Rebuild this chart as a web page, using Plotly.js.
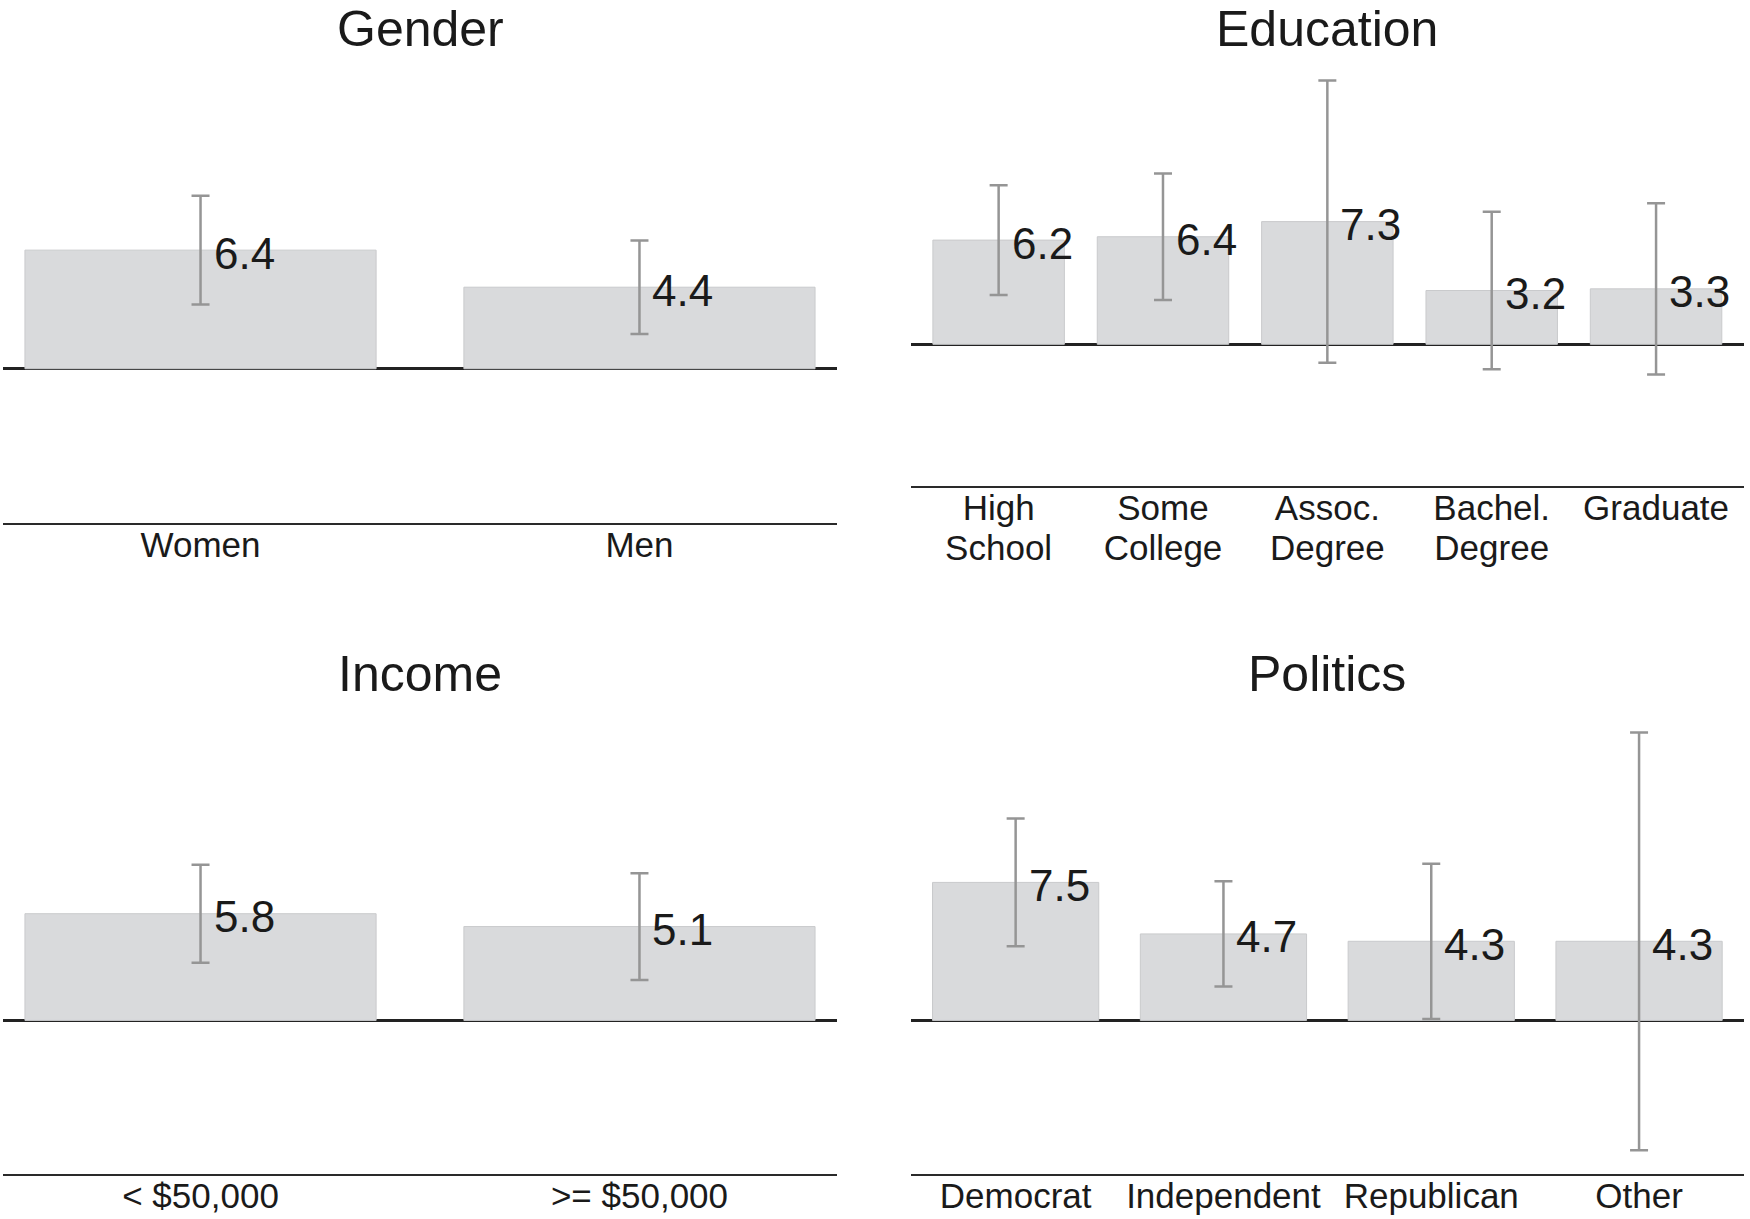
<!DOCTYPE html>
<html>
<head>
<meta charset="utf-8">
<script src="https://cdn.plot.ly/plotly-3.0.1.min.js"></script>
<style>
  html, body { margin: 0; padding: 0; background: #ffffff; }
  #chart { width: 1750px; height: 1219px; }
</style>
</head>
<body>
<div id="chart"></div>
<script>
// ---- Data ----
const panelTitles = ['Gender', 'Education', 'Income', 'Politics'];

const genderCats = ['Women', 'Men'];
const genderVals = [6.4, 4.4];
const genderErr  = [2.94, 2.52];

const eduCats = ['High<br>School', 'Some<br>College', 'Assoc.<br>Degree', 'Bachel.<br>Degree', 'Graduate'];
const eduVals = [6.2, 6.4, 7.3, 3.2, 3.3];
const eduErr  = [3.26, 3.77, 8.4, 4.68, 5.1];

const incomeCats = ['< $50,000', '>= $50,000'];
const incomeVals = [5.8, 5.1];
const incomeErr  = [2.66, 2.9];

const polCats = ['Democrat', 'Independent', 'Republican', 'Other'];
const polVals = [7.5, 4.7, 4.3, 4.3];
const polErr  = [3.47, 2.86, 4.22, 11.35];

// ---- Styling ----
const FONT = 'Liberation Sans, Arial, Helvetica, sans-serif';
const TEXT_COLOR = '#1a1a1a';
const BAR_FILL = '#d9dadc';
const BAR_EDGE = '#c9cacc';
const ERR_COLOR = '#959595';

const panels = [
  { cats: genderCats, vals: genderVals, err: genderErr, xa: 'x',  ya: 'y'  },
  { cats: eduCats,    vals: eduVals,    err: eduErr,    xa: 'x2', ya: 'y2' },
  { cats: incomeCats, vals: incomeVals, err: incomeErr, xa: 'x3', ya: 'y3' },
  { cats: polCats,    vals: polVals,    err: polErr,    xa: 'x4', ya: 'y4' }
];

const traces = panels.map(p => ({
  type: 'bar',
  x: p.cats.map((c, i) => i),
  y: p.vals,
  xaxis: p.xa,
  yaxis: p.ya,
  width: 0.8,
  marker: { color: BAR_FILL, line: { color: BAR_EDGE, width: 1 } },
  error_y: { type: 'data', array: p.err, visible: true, color: ERR_COLOR, thickness: 2.5, width: 9 },
  showlegend: false,
  hoverinfo: 'skip'
}));

// value labels
const annotations = [];
panels.forEach(p => {
  p.vals.forEach((v, i) => {
    annotations.push({
      xref: p.xa, yref: p.ya,
      x: i, y: v,
      text: v.toFixed(1),
      showarrow: false,
      xanchor: 'left', yanchor: 'middle',
      xshift: 11, yshift: -3,
      font: { family: FONT, size: 44, color: TEXT_COLOR }
    });
  });
});

// panel titles (centred over each panel's domain)
const W = 1750, H = 1219;
const colX = [[3 / W, 837 / W], [910.7 / W, 1744 / W]];
const titlePos = [
  { x: (colX[0][0] + colX[0][1]) / 2, y: 1,            anchor: 'top' },
  { x: (colX[1][0] + colX[1][1]) / 2, y: 1,            anchor: 'top' },
  { x: (colX[0][0] + colX[0][1]) / 2, y: 1 - 674 / H,  anchor: 'middle' },
  { x: (colX[1][0] + colX[1][1]) / 2, y: 1 - 674 / H,  anchor: 'middle' }
];
panelTitles.forEach((t, i) => {
  annotations.push({
    xref: 'paper', yref: 'paper',
    x: titlePos[i].x, y: titlePos[i].y,
    text: t, showarrow: false,
    xanchor: 'center', yanchor: titlePos[i].anchor,
    borderpad: 0,
    font: { family: FONT, size: 50, color: TEXT_COLOR }
  });
});

function xAxis(domain, cats, range, anchor) {
  return {
    domain: domain,
    anchor: anchor,
    type: 'linear',
    range: range,
    tickmode: 'array',
    tickvals: cats.map((c, i) => i),
    ticktext: cats,
    ticks: '',
    ticklabelstandoff: -10,
    showgrid: false,
    zeroline: false,
    showline: true,
    linecolor: '#2a2a2a',
    linewidth: 2,
    tickfont: { family: FONT, size: 35, color: TEXT_COLOR },
    fixedrange: true
  };
}
function yAxis(domain, range, anchor) {
  return {
    domain: domain,
    anchor: anchor,
    range: range,
    showticklabels: false,
    ticks: '',
    showgrid: false,
    showline: false,
    zeroline: true,
    zerolinecolor: '#222222',
    zerolinewidth: 2.5,
    fixedrange: true
  };
}

const layout = {
  width: W, height: H,
  margin: { l: 0, r: 0, t: 0, b: 0, pad: 0 },
  paper_bgcolor: '#ffffff',
  plot_bgcolor: '#ffffff',
  font: { family: FONT, color: TEXT_COLOR },
  showlegend: false,
  bargap: 0.2,
  xaxis:  xAxis(colX[0], genderCats, [-0.45, 1.45], 'y'),
  xaxis2: xAxis(colX[1], eduCats,    [-0.535, 4.535], 'y2'),
  xaxis3: xAxis(colX[0], incomeCats, [-0.45, 1.45], 'y3'),
  xaxis4: xAxis(colX[1], polCats,    [-0.505, 3.505], 'y4'),
  yaxis:  yAxis([1 - 522.5 / H, 1 - 63 / H],   [-8.3, 16.5],  'x'),
  yaxis2: yAxis([1 - 486.3 / H, 1 - 67 / H],   [-8.45, 16.5], 'x2'),
  yaxis3: yAxis([1 - 1173.7 / H, 1 - 716.8 / H], [-8.33, 16.5], 'x3'),
  yaxis4: yAxis([1 - 1173.7 / H, 1 - 716.8 / H], [-8.33, 16.5], 'x4'),
  annotations: annotations
};

function tightenLabelLines(gd) {
  // the reference sets its two-line category labels tighter than Plotly's 1.3 em
  gd.querySelectorAll('.xaxislayer-above text tspan.line').forEach(function (t) {
    var dy = t.getAttribute('dy');
    if (dy && parseFloat(dy) > 0) { t.setAttribute('dy', '1.13em'); }
  });
}

Plotly.newPlot('chart', traces, layout, { staticPlot: true, displayModeBar: false }).then(function (gd) {
  tightenLabelLines(gd);
  gd.on('plotly_afterplot', function () { tightenLabelLines(gd); });
});
</script>
</body>
</html>
